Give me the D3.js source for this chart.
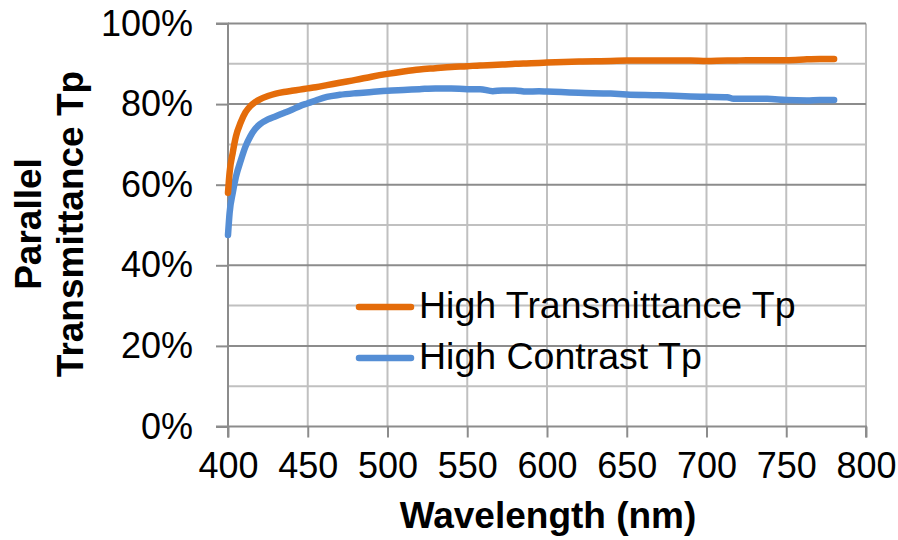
<!DOCTYPE html>
<html><head><meta charset="utf-8">
<script src="https://cdn.jsdelivr.net/npm/d3@7"></script>
<style>body{margin:0;background:#fff}svg{display:block;font-family:"Liberation Sans",Arial,sans-serif}</style>
</head><body><svg id="c" width="898" height="540"></svg>
<script>
const wavelengths = [400,401,403,405,408,411,414,417,420,425,430,435,440,445,450,455,462,470,480,490,500,510,520,530,540,550,558,566,572,580,587,595,600,620,640,650,670,690,700,713,717,725,738,750,763,771,780];
const highTransmittance = [58,63,68,72,75.5,78,79.5,80.5,81.2,82,82.6,83,83.3,83.6,83.9,84.2,84.7,85.3,86,86.8,87.5,88.1,88.6,88.9,89.2,89.4,89.6,89.7,89.8,90,90.1,90.2,90.3,90.6,90.7,90.8,90.8,90.8,90.7,90.8,90.8,90.9,90.9,90.9,91.1,91.2,91.2];
const highContrast = [47.5,53,58,62,66,69.5,72,73.8,75,76.2,77,77.8,78.6,79.5,80.2,80.9,81.8,82.3,82.7,83,83.3,83.5,83.7,83.9,83.9,83.7,83.7,83.2,83.4,83.4,83.1,83.2,83.1,82.8,82.6,82.4,82.2,81.9,81.8,81.7,81.3,81.3,81.3,81.0,80.9,81.0,81.0];
const seriesNames = ["High Transmittance Tp","High Contrast Tp"];
const seriesColors = ["#E46C0A","#558ED5"];
const xTicks = [400,450,500,550,600,650,700,750,800];
const yMajor = [0,20,40,60,80,100];
const yMinor = [10,30,50,70,90];

const svg = d3.select("#c");
const x = d3.scaleLinear().domain([400,800]).range([228,866]);
const y = d3.scaleLinear().domain([0,100]).range([426.5,23.5]);

svg.append("g").selectAll("line").data(yMinor).join("line")
  .attr("x1",x(400)).attr("x2",x(800)).attr("y1",d=>y(d)).attr("y2",d=>y(d))
  .attr("stroke","#c0c0c0").attr("stroke-width",2);
svg.append("g").selectAll("line").data(xTicks.slice(1)).join("line")
  .attr("x1",d=>x(d)).attr("x2",d=>x(d)).attr("y1",y(0)).attr("y2",y(100))
  .attr("stroke","#c0c0c0").attr("stroke-width",2);
svg.append("g").selectAll("line").data(yMajor.slice(1)).join("line")
  .attr("x1",x(400)).attr("x2",x(800)).attr("y1",d=>y(d)).attr("y2",d=>y(d))
  .attr("stroke","#8c8c8c").attr("stroke-width",2);

const yAxis = d3.axisLeft(y).tickValues(yMajor).tickSize(12).tickPadding(23).tickFormat(d=>d+"%");
const gy = svg.append("g").attr("transform",`translate(${x(400)},0)`).call(yAxis);
const xAxis = d3.axisBottom(x).tickValues(xTicks).tickSize(11).tickPadding(15);
const gx = svg.append("g").attr("transform",`translate(0,${y(0)})`).call(xAxis);
[gx,gy].forEach(g=>{
  g.select(".domain").attr("stroke","#8c8c8c").attr("stroke-width",2);
  g.selectAll(".tick line").attr("stroke","#8c8c8c").attr("stroke-width",2);
  g.selectAll("text").attr("font-size",36).attr("fill","#000").attr("font-family","Liberation Sans, Arial, sans-serif");
});
gy.selectAll("text").attr("x",-35);
gy.select(".domain").attr("d",`M-12,${y(0)}H0V${y(100)}H-12`);
gx.select(".domain").attr("d",`M${x(400)},11V0H${x(800)}V11`);

const data = [highTransmittance, highContrast];
const line = d3.line().x((d,i)=>x(wavelengths[i])).y(d=>y(d)).curve(d3.curveMonotoneX);
svg.append("g").selectAll("path").data([1,0]).join("path")
  .attr("d",i=>line(data[i])).attr("fill","none")
  .attr("stroke",i=>seriesColors[i]).attr("stroke-width",6.5)
  .attr("stroke-linecap","round").attr("stroke-linejoin","round");

const leg = svg.append("g");
seriesNames.forEach((n,i)=>{
  const yy = 307 + i*51;
  leg.append("line").attr("x1",359).attr("x2",411).attr("y1",yy).attr("y2",yy)
    .attr("stroke",seriesColors[i]).attr("stroke-width",6.5).attr("stroke-linecap","round");
  leg.append("text").attr("x",419).attr("y",yy+11).attr("font-size",37.5).attr("fill","#000").text(n);
});

svg.append("text").attr("x",548).attr("y",528).attr("text-anchor","middle")
  .attr("font-size",37).attr("font-weight","bold").text("Wavelength (nm)");
const yt = svg.append("text").attr("transform","translate(0,224) rotate(-90)")
  .attr("text-anchor","middle").attr("font-size",37).attr("font-weight","bold");
yt.append("tspan").attr("x",0).attr("y",41).text("Parallel");
yt.append("tspan").attr("x",0).attr("y",83).text("Transmittance Tp");
</script></body></html>
